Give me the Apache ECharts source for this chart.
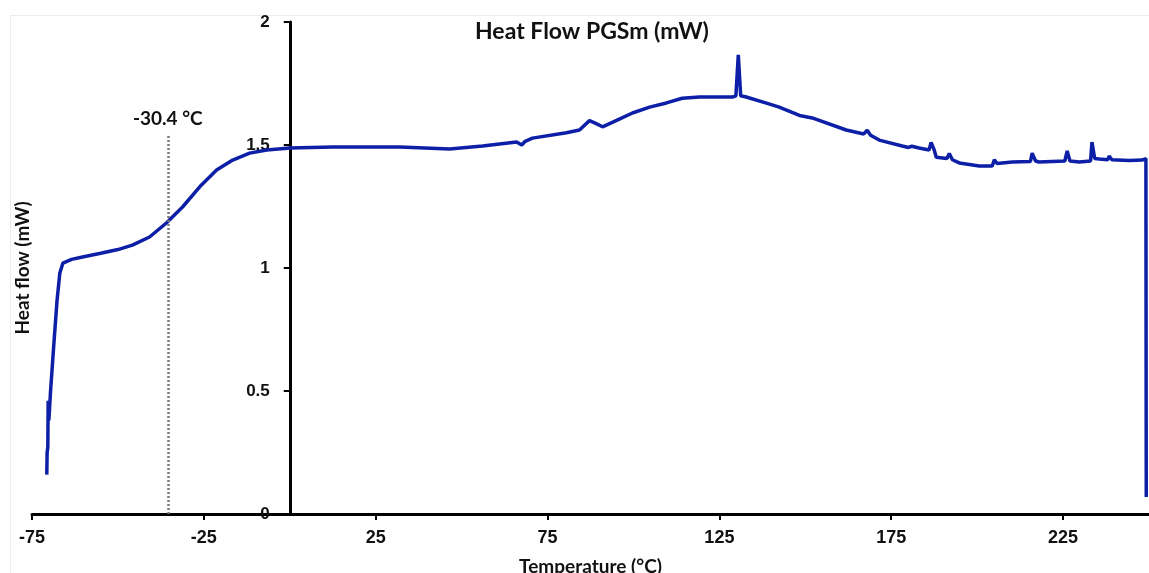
<!DOCTYPE html>
<html>
<head>
<meta charset="utf-8">
<script src="https://cdn.jsdelivr.net/npm/echarts@6/dist/echarts.min.js"></script>
<style>
  html, body { margin: 0; padding: 0; background: #fff; }
  #main { width: 1149px; height: 573px; }
</style>
</head>
<body>
<div id="main"></div>
<script>
// temperature (°C) and heat flow (mW)
var temps = [-70.7, -70.6, -70.4, -70.3, -70.1, -69.6, -68.6, -67.7, -66.9, -66.0, -63.5, -60.3, -55, -50, -45.8,
    -40.8, -35.9, -31.2, -26.2, -21.3, -16.6, -11.7, -6.7, 0, 12.5, 32, 46.5, 56.1, 66.0, 67.5, 68.5, 70.6,
    80.5, 84.3, 87.2, 89, 91.0, 95.1, 99.7, 104.7, 109.6, 114.2, 119.2, 128.8, 129.8, 130.5, 131.2, 132.8,
    138.7, 142.4, 148.3, 152.0, 161.9, 167.0, 168.0, 169.0, 171.5, 178.2, 180, 181, 183.1, 186.0, 186.6,
    187.5, 188.1, 191.2, 191.9, 192.8, 194.8, 200.6, 204.4, 205.0, 205.8, 210.2, 215.5, 216.0, 217, 218,
    225.5, 226.2, 227, 229.7, 233.0, 233.4, 234.2, 235.5, 238.0, 238.4, 239.2, 244.2, 248.0, 249.1, 249.2];
var flows = [0.16, 0.25, 0.27, 0.46, 0.38, 0.50, 0.70, 0.87, 0.98, 1.02, 1.035, 1.045, 1.06, 1.075, 1.093,
    1.126, 1.183, 1.248, 1.33, 1.398, 1.439, 1.467, 1.48, 1.488, 1.492, 1.492, 1.484, 1.496, 1.512, 1.50, 1.515, 1.528,
    1.55, 1.561, 1.599, 1.588, 1.574, 1.6, 1.63, 1.654, 1.671, 1.69, 1.695, 1.695, 1.70, 1.866, 1.70, 1.695,
    1.67, 1.654, 1.62, 1.61, 1.561, 1.545, 1.56, 1.54, 1.52, 1.496, 1.49, 1.495, 1.488, 1.48, 1.51,
    1.48, 1.45, 1.445, 1.465, 1.44, 1.427, 1.415, 1.415, 1.44, 1.425, 1.431, 1.433, 1.467, 1.435, 1.431,
    1.435, 1.476, 1.435, 1.431, 1.435, 1.512, 1.445, 1.443, 1.44, 1.455, 1.44, 1.437, 1.439, 1.445, 0.069];
var xTicks = [-75, -25, 25, 75, 125, 175, 225];
var glassTemp = -35.5;      // where the dotted marker sits on the axis
var glassLabel = '-30.4 °C';
var glassTop = 1.545;

var points = temps.map(function (t, i) { return [t, flows[i]]; });

var gridLeft = 32, gridRight = 0, xMin = -75, xMax = 250;
var plotW = 1149 - gridLeft - gridRight;
// y axis is drawn where x = 0
var yAxisShift = -(0 - xMin) * plotW / (xMax - xMin);

var myChart = echarts.init(document.getElementById('main'));
var option = {
    animation: false,
    title: {
        text: 'Heat Flow PGSm (mW)',
        left: 470,
        top: 15,
        textStyle: { fontSize: 23, color: '#111', fontWeight: 'bold', fontFamily: 'Lato' }
    },
    graphic: [{
        type: 'rect',
        left: 8, top: 13,
        shape: { width: 1300, height: 700 },
        style: { fill: 'none', stroke: '#ececec', lineWidth: 1 },
        silent: true
    }],
    grid: { left: gridLeft, right: gridRight, top: 22, bottom: 59, outerBoundsMode: 'none' },
    xAxis: {
        type: 'value',
        min: xMin,
        max: xMax,
        name: 'Temperature (°C)',
        nameLocation: 'middle',
        nameGap: 43,
        nameTextStyle: { fontSize: 19, fontWeight: 'bold', color: '#111', fontFamily: 'Lato' },
        splitLine: { show: false },
        axisLine: { onZero: false, lineStyle: { color: '#000', width: 3 } },
        axisTick: { show: true, customValues: xTicks, length: 6, lineStyle: { color: '#000', width: 2 } },
        axisLabel: {
            customValues: xTicks, margin: 15,
            fontSize: 18, fontWeight: 'bold', color: '#111', fontFamily: 'Liberation Sans'
        }
    },
    yAxis: {
        type: 'value',
        min: 0,
        max: 2,
        interval: 0.5,
        offset: yAxisShift,
        name: 'Heat flow (mW)',
        nameLocation: 'middle',
        nameGap: 257,
        nameTextStyle: { fontSize: 19, fontWeight: 'bold', color: '#111', fontFamily: 'Lato' },
        splitLine: { show: false },
        axisLine: { onZero: false, lineStyle: { color: '#000', width: 3 } },
        axisTick: { show: true, length: 6, lineStyle: { color: '#000', width: 2 } },
        axisLabel: { margin: 20, fontSize: 17, fontWeight: 'bold', color: '#111', fontFamily: 'Liberation Sans' }
    },
    series: [{
        type: 'line',
        data: points,
        showSymbol: false,
        lineStyle: { color: '#0c1fa6', width: 3.5 },
        markLine: {
            silent: true,
            symbol: 'none',
            lineStyle: { color: '#777', type: [2, 2], width: 2.5 },
            label: {
                show: true, position: 'end', formatter: glassLabel, distance: 6,
                fontSize: 19, fontWeight: 'bold', color: '#111', fontFamily: 'Lato'
            },
            data: [[{ coord: [glassTemp, 0] }, { coord: [glassTemp, glassTop] }]]
        }
    }]
};
myChart.setOption(option);
</script>
</body>
</html>
